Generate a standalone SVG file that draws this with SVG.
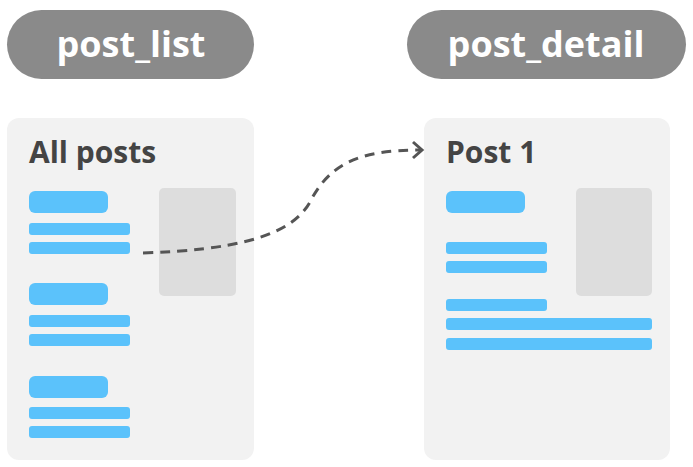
<svg xmlns="http://www.w3.org/2000/svg" width="693" height="467" viewBox="0 0 693 467">
<style>
.pill{fill:#8a8a8a}
.pilltxt{font-family:"Open Sans","Liberation Sans",sans-serif;font-weight:700;font-size:36px;fill:#ffffff;text-anchor:middle}
.card{fill:#f2f2f2}
.title{font-family:"Open Sans","Liberation Sans",sans-serif;font-weight:700;font-size:30px;fill:#444444}
.bar{fill:#5bc2fb}
.img{fill:#dddddd}
.conn{fill:none;stroke:#555555;stroke-width:3;stroke-linecap:butt}
</style>
<rect width="693" height="467" fill="#ffffff"/>
<g id="post_list_label">
<rect class="pill" x="7" y="10" width="247" height="69" rx="34.5"/>
<text class="pilltxt" x="131" y="57">post_list</text>
</g>
<g id="post_detail_label">
<rect class="pill" x="407" y="10" width="279" height="69" rx="34.5"/>
<text class="pilltxt" x="546" y="57">post_detail</text>
</g>
<g id="all_posts_card">
<rect class="card" x="7" y="118" width="247" height="342" rx="12"/>
<text class="title" x="29" y="163">All posts</text>
<rect class="img" x="159" y="188" width="77" height="108" rx="5"/>
<rect class="bar" x="29" y="191" width="79" height="22" rx="6"/>
<rect class="bar" x="29" y="223" width="101" height="12" rx="3"/>
<rect class="bar" x="29" y="242" width="101" height="12" rx="3"/>
<rect class="bar" x="29" y="283" width="79" height="22" rx="6"/>
<rect class="bar" x="29" y="315" width="101" height="12" rx="3"/>
<rect class="bar" x="29" y="334" width="101" height="12" rx="3"/>
<rect class="bar" x="29" y="376" width="79" height="22" rx="6"/>
<rect class="bar" x="29" y="407" width="101" height="12" rx="3"/>
<rect class="bar" x="29" y="426" width="101" height="12" rx="3"/>
</g>
<g id="post_1_card">
<rect class="card" x="424" y="118" width="246" height="342" rx="12"/>
<text class="title" x="446" y="163">Post 1</text>
<rect class="img" x="576" y="188" width="76" height="108" rx="5"/>
<rect class="bar" x="446" y="191" width="79" height="22" rx="6"/>
<rect class="bar" x="446" y="242" width="101" height="12" rx="3"/>
<rect class="bar" x="446" y="261" width="101" height="12" rx="3"/>
<rect class="bar" x="446" y="299" width="101" height="12" rx="3"/>
<rect class="bar" x="446" y="318" width="206" height="12" rx="3"/>
<rect class="bar" x="446" y="338" width="206" height="12" rx="3"/>
</g>
<g id="connectors">
<path class="conn" d="M143,253 C230,250 290,238 310,202 C330,163 360,150 420,150" stroke-dasharray="10 7"/>
<polyline class="conn" points="413,142 422,150 413,158" stroke-linejoin="miter"/>
</g>
</svg>
